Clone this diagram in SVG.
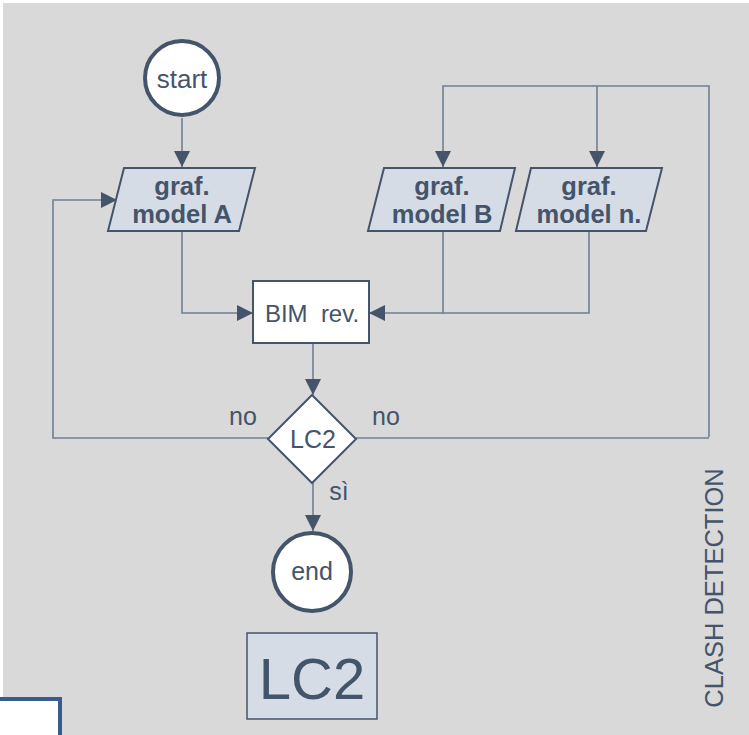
<svg xmlns="http://www.w3.org/2000/svg" width="749" height="735" viewBox="0 0 749 735">
  <defs>
    <marker id="arrow" viewBox="0 0 10 10" refX="10" refY="5" markerWidth="16" markerHeight="16" markerUnits="userSpaceOnUse" orient="auto">
      <path d="M0,0 L10,5 L0,10 Z" fill="#44546a"/>
    </marker>
    <style>
      .conn { fill: none; stroke: #6f7f96; stroke-width: 1.6; }
      .term { fill: #ffffff; stroke: #44546a; stroke-width: 4; }
      .io { fill: #d6dce5; stroke: #44546a; stroke-width: 2; }
      .proc { fill: #ffffff; stroke: #44546a; stroke-width: 2; }
      .txt { font-family: "Liberation Sans", Arial, sans-serif; fill: #44546a; text-anchor: middle; font-size: 25px; }
      .bold { font-weight: bold; font-size: 25.5px; }
    </style>
  </defs>

  <!-- page background -->
  <rect x="0" y="0" width="749" height="735" fill="#ffffff"/>
  <rect x="3" y="3" width="746" height="732" fill="#d9d9d9"/>

  <!-- connectors -->
  <g id="connectors">
    <path class="conn" d="M182,118 V167" marker-end="url(#arrow)"/>
    <path class="conn" d="M709,437 V86 H443 V167" marker-end="url(#arrow)"/>
    <path class="conn" d="M597,86 V167" marker-end="url(#arrow)"/>
    <path class="conn" d="M182,231 V313 H253" marker-end="url(#arrow)"/>
    <path class="conn" d="M443,231 V313 H369" marker-end="url(#arrow)"/>
    <path class="conn" d="M589,231 V313 H443"/>
    <path class="conn" d="M313,343 V395" marker-end="url(#arrow)"/>
    <path class="conn" d="M268,438 H53 V200 H117" marker-end="url(#arrow)"/>
    <path class="conn" d="M356,438 H709"/>
    <path class="conn" d="M313,483 V531" marker-end="url(#arrow)"/>
    <text class="txt" x="243" y="425">no</text>
    <text class="txt" x="386" y="425">no</text>
    <text class="txt" x="339" y="500">sì</text>
  </g>

  <g id="start">
    <circle class="term" cx="182" cy="78" r="37"/>
    <text class="txt" x="182" y="88" style="font-size:26px">start</text>
  </g>

  <g id="model-a">
    <polygon class="io" points="124,168 255,168 239,231 108,231"/>
    <text class="txt bold" x="182" y="195">graf.</text>
    <text class="txt bold" x="182" y="223">model A</text>
  </g>

  <g id="model-b">
    <polygon class="io" points="384,168 515,168 500,231 368,231"/>
    <text class="txt bold" x="442" y="195">graf.</text>
    <text class="txt bold" x="442" y="223">model B</text>
  </g>

  <g id="model-n">
    <polygon class="io" points="531,168 662,168 646,231 516,231"/>
    <text class="txt bold" x="589" y="195">graf.</text>
    <text class="txt bold" x="589" y="223">model n.</text>
  </g>

  <g id="bim-rev">
    <rect class="proc" x="253" y="281" width="116" height="62"/>
    <text class="txt" x="312" y="322" style="font-size:24px" xml:space="preserve">BIM  rev.</text>
  </g>

  <g id="lc2-check">
    <polygon class="proc" points="312,395 356,439 312,483 268,439"/>
    <text class="txt" x="313" y="448">LC2</text>
  </g>

  <g id="end">
    <circle class="term" cx="312" cy="572" r="39"/>
    <text class="txt" x="312" y="580">end</text>
  </g>

  <g id="lc2-label">
    <rect x="247" y="633" width="130" height="86" fill="#d6dce5" stroke="#44546a" stroke-width="1.5"/>
    <text class="txt" x="312" y="699" style="font-size:58px">LC2</text>
  </g>

  <g id="section-title">
    <text class="txt" transform="translate(723,588) rotate(-90)" style="font-size:25.5px">CLASH DETECTION</text>
  </g>

  <!-- neighbouring panel corner -->
  <rect x="-4" y="699" width="64" height="50" fill="#ffffff" stroke="#3b5b8c" stroke-width="4"/>
</svg>
